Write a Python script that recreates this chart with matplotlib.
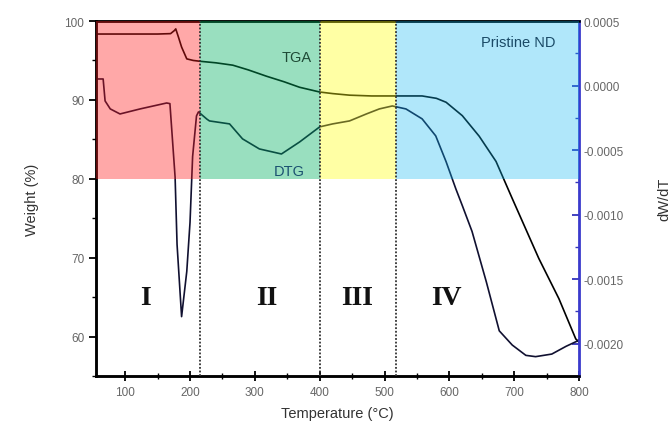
import matplotlib
matplotlib.use("Agg")
import matplotlib.pyplot as plt
from matplotlib.ticker import MultipleLocator, FormatStrFormatter

# ---- data ----
tga_temp = [57, 100, 150, 170, 176, 178, 182, 187, 195, 205, 215, 240, 266, 290, 318, 345,
            369, 400, 420, 446, 480, 515, 540, 558, 580, 595, 620, 646, 672, 697, 738, 769,
            795, 800]
tga_weight = [98.35, 98.35, 98.35, 98.4, 98.8, 99.0, 98.0, 96.7, 95.2, 95.0, 94.9, 94.7,
              94.4, 93.8, 93.0, 92.3, 91.6, 91.0, 90.8, 90.6, 90.5, 90.5, 90.5, 90.5, 90.2,
              89.7, 88.0, 85.4, 82.2, 77.5, 69.9, 64.8, 59.7, 59.3]

dtg_temp = [57, 66, 69, 77, 92, 123, 164, 169, 177, 180, 187, 195, 200, 204, 210, 213, 226,
            230, 261, 281, 307, 341, 369, 400, 420, 446, 472, 492, 512, 533, 558, 579, 595,
            610, 620, 635, 657, 677, 697, 718, 733, 758, 780, 797, 800]
dtg_value = [0.000051, 0.000051, -0.000119, -0.000181, -0.000220, -0.000181, -0.000135,
             -0.000140, -0.00071, -0.00123, -0.00179, -0.00144, -0.00106, -0.00055, -0.000235,
             -0.000204, -0.000260, -0.000274, -0.000297, -0.000413, -0.000491, -0.000530,
             -0.000437, -0.000320, -0.000297, -0.000274, -0.000220, -0.000181, -0.000158,
             -0.000181, -0.000258, -0.000390, -0.000590, -0.000800, -0.000930, -0.00113,
             -0.00152, -0.00190, -0.00201, -0.00209, -0.00210, -0.00208, -0.00202, -0.00198,
             -0.00197]

region_edges = [55, 215, 400, 518, 800]
region_colors = ["#ff1a1a", "#00b060", "#ffff10", "#10b8f0"]
region_alpha = [0.38, 0.40, 0.38, 0.33]
region_labels = ["I", "II", "III", "IV"]
region_label_x = [132, 318, 457, 595]
region_label_y = 65
band_low, band_high = 80, 100

x_lim = (55, 800)
w_lim = (55, 100)
d_lim = (-0.00225, 0.0005)

# ---- figure ----
fig = plt.figure(figsize=(6.7, 4.35), dpi=100)
ax = fig.add_axes([0.1433, 0.1333, 0.7209, 0.8161])
ax2 = ax.twinx()

ax.plot(tga_temp, tga_weight, color="black", lw=1.2, zorder=2)
ax2.plot(dtg_temp, dtg_value, color="#101030", lw=1.2, zorder=2)

ax.set_xlim(*x_lim)
ax.set_ylim(*w_lim)
ax2.set_ylim(*d_lim)

frac_lo = (band_low - w_lim[0]) / (w_lim[1] - w_lim[0])
frac_hi = (band_high - w_lim[0]) / (w_lim[1] - w_lim[0])
for i in range(len(region_colors)):
    ax2.axvspan(region_edges[i], region_edges[i + 1], ymin=frac_lo, ymax=frac_hi,
                color=region_colors[i], alpha=region_alpha[i], lw=0, zorder=5)
for e in region_edges[1:-1]:
    ax2.axvline(e, color="#333333", ls=(0, (1, 1)), lw=1.3, zorder=6)

for lab, lx in zip(region_labels, region_label_x):
    ax2.text(lx, region_label_y, lab, ha="center", va="center", fontsize=20,
             fontweight="bold", family="Liberation Serif", color="#111111",
             transform=ax.transData, zorder=7)

ax2.text(364, 95.4, "TGA", ha="center", va="center", fontsize=10.5, color="#1e4a36",
         family="Liberation Sans", transform=ax.transData, zorder=7)
ax2.text(353, 81.0, "DTG", ha="center", va="center", fontsize=10.5, color="#1a5070",
         family="Liberation Sans", transform=ax.transData, zorder=7)
ax2.text(707, 97.3, "Pristine ND", ha="center", va="center", fontsize=10.5, color="#1a4a66",
         family="Liberation Sans", transform=ax.transData, zorder=7)

# ticks
ax.xaxis.set_major_locator(MultipleLocator(100))
ax.xaxis.set_minor_locator(MultipleLocator(50))
ax.yaxis.set_major_locator(MultipleLocator(10))
ax.yaxis.set_minor_locator(MultipleLocator(5))
ax2.yaxis.set_major_locator(MultipleLocator(0.0005))
ax2.yaxis.set_minor_locator(MultipleLocator(0.00025))
ax2.yaxis.set_major_formatter(FormatStrFormatter("%.4f"))

tick_col = "#666666"
for a in (ax, ax2):
    for lab in a.get_xticklabels() + a.get_yticklabels():
        lab.set_family("Liberation Sans")
ax.tick_params(axis="x", which="both", direction="inout", labelsize=8.5, labelcolor=tick_col)
ax.tick_params(axis="x", which="major", length=7, width=1.3)
ax.tick_params(axis="x", which="minor", length=4, width=1.0)
ax.tick_params(axis="y", which="both", direction="out", labelsize=8.5, labelcolor=tick_col)
ax.tick_params(axis="y", which="major", length=5, width=1.3)
ax.tick_params(axis="y", which="minor", length=3, width=1.0)
ax2.tick_params(axis="y", which="both", direction="in", labelsize=8.5, labelcolor=tick_col,
                color="#3333bb")
ax2.tick_params(axis="y", which="major", length=5, width=1.3)
ax2.tick_params(axis="y", which="minor", length=3, width=1.0)

for s in ("left", "bottom", "top"):
    ax.spines[s].set_linewidth(1.8)
    ax2.spines[s].set_linewidth(1.8)
ax2.spines["right"].set_color("#3a3acc")
ax2.spines["right"].set_linewidth(2.0)
ax.spines["right"].set_visible(False)

ax.set_xlabel("Temperature (°C)", fontsize=10.5, color="#333333", family="Liberation Sans",
              labelpad=6)
ax.set_ylabel("Weight (%)", fontsize=10.5, color="#333333", family="Liberation Sans",
              labelpad=18)
ax2.set_ylabel("dW/dT", fontsize=10.5, color="#333333", family="Liberation Sans", labelpad=24)

fig.savefig("out.png", dpi=100)
